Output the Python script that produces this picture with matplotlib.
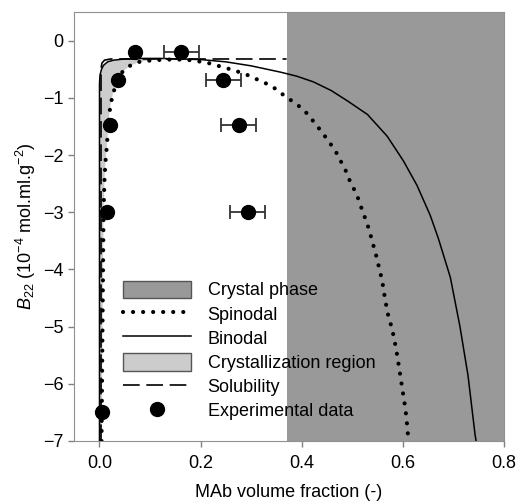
import matplotlib
matplotlib.use('Agg')
import matplotlib.pyplot as plt
from matplotlib.patches import Patch
from matplotlib.lines import Line2D
import numpy as np

plt.rcParams['font.family'] = ['Liberation Sans', 'DejaVu Sans']
plt.rcParams['mathtext.fontset'] = 'custom'
plt.rcParams['mathtext.rm'] = 'Liberation Sans'
plt.rcParams['mathtext.it'] = 'Liberation Sans:italic'

# experimental B22 points (volume fraction, B22 in 1e-4 mol.ml.g^-2)
exp_x = [0.004, 0.014, 0.020, 0.036, 0.071, 0.162, 0.245, 0.275, 0.293]
exp_y = [-6.5, -3.0, -1.47, -0.69, -0.2, -0.2, -0.69, -1.47, -3.0]
exp_xerr = [0, 0, 0, 0, 0, 0.035, 0.035, 0.035, 0.035]

# spinodal curve
sp_x = [0.004, 0.005, 0.006, 0.007, 0.008, 0.010, 0.012, 0.014, 0.016, 0.019,
        0.022, 0.026, 0.035, 0.045, 0.06, 0.079, 0.097, 0.13, 0.17, 0.211,
        0.231, 0.251, 0.27, 0.29, 0.31, 0.33, 0.35, 0.368, 0.389, 0.409, 0.425,
        0.44, 0.455, 0.468, 0.478, 0.488, 0.496, 0.506, 0.514, 0.52, 0.528,
        0.534, 0.547, 0.559, 0.565, 0.571, 0.579, 0.587, 0.593, 0.599, 0.605,
        0.609, 0.611]
sp_y = [-7.0, -6.0, -5.0, -4.0, -3.0, -2.4, -2.1, -1.9, -1.66, -1.3,
        -1.12, -0.95, -0.7, -0.55, -0.44, -0.37, -0.35, -0.33, -0.33, -0.38,
        -0.43, -0.48, -0.53, -0.59, -0.67, -0.75, -0.85, -0.98, -1.1, -1.26, -1.43,
        -1.6, -1.78, -1.95, -2.12, -2.29, -2.47, -2.64, -2.81, -2.98, -3.16,
        -3.33, -3.75, -4.19, -4.53, -4.8, -5.05, -5.4, -5.74, -6.09, -6.43,
        -6.76, -7.0]

# binodal curve
bn_x = [0.0, 0.0, 0.001, 0.004, 0.008, 0.016, 0.028, 0.05, 0.08, 0.12, 0.2,
        0.25, 0.3, 0.358, 0.39, 0.423, 0.458, 0.49, 0.53, 0.569, 0.601, 0.628,
        0.654, 0.67, 0.694, 0.713, 0.729, 0.743, 0.745]
bn_y = [-7.0, -0.75, -0.6, -0.5, -0.43, -0.37, -0.34, -0.32, -0.31, -0.31, -0.33,
        -0.37, -0.44, -0.55, -0.62, -0.72, -0.87, -1.05, -1.29, -1.67, -2.1, -2.53,
        -3.05, -3.45, -4.14, -5.0, -5.86, -6.9, -7.0]

# solubility line
sol_x = [0.003, 0.003, 0.005, 0.010, 0.022, 0.37]
sol_y = [-7.0, -0.48, -0.39, -0.34, -0.32, -0.32]

crystal_start = 0.37
crystal_end = 0.8

DARK = '#999999'
LIGHT = '#cccccc'

fig = plt.figure(figsize=(5.19, 5.04), dpi=100)
ax = fig.add_axes([0.143, 0.125, 0.828, 0.851])

# crystal phase band
ax.axvspan(crystal_start, crystal_end, color=DARK, lw=0, zorder=0)

# crystallization region: between left branches of binodal and spinodal
bi_top = 9
si_top = 16
reg_x = bn_x[:bi_top + 1] + sp_x[:si_top + 1][::-1]
reg_y = bn_y[:bi_top + 1] + sp_y[:si_top + 1][::-1]
ax.fill(reg_x, reg_y, color=LIGHT, lw=0, zorder=1)

ax.plot(sol_x, sol_y, color='black', lw=1.2, dashes=(10, 4), zorder=2)
ax.plot(bn_x, bn_y, color='black', lw=1.1, zorder=3)
ax.plot(sp_x, sp_y, color='black', lw=3.0, linestyle=(0, (0.01, 2.4)),
        dash_capstyle='round', zorder=3)

ax.errorbar(exp_x, exp_y, xerr=exp_xerr, fmt='o', color='black', ms=10,
            ecolor='#333333', elinewidth=1.3, capsize=5, capthick=1.3, zorder=4)

ax.set_xlim(-0.05, 0.8)
ax.set_ylim(-7, 0.5)
ax.set_xticks([0.0, 0.2, 0.4, 0.6, 0.8])
ax.set_xticklabels(['0.0', '0.2', '0.4', '0.6', '0.8'])
ax.set_yticks(range(-7, 1))
ax.tick_params(labelsize=13, color='#808080', length=4, width=1)
ax.tick_params(axis='x', pad=6)
for s in ax.spines.values():
    s.set_color('#909090')

ax.set_xlabel('MAb volume fraction (-)', fontsize=13, labelpad=9)
ax.set_ylabel(r'$B_{22}$ (10$^{-4}$ mol.ml.g$^{-2}$)', fontsize=13)

handles = [
    Patch(facecolor=DARK, edgecolor='#555555', lw=1),
    Line2D([], [], color='black', lw=3.0, linestyle=(0, (0.01, 2.4)), dash_capstyle='round'),
    Line2D([], [], color='black', lw=1.1),
    Patch(facecolor=LIGHT, edgecolor='#555555', lw=1),
    Line2D([], [], color='black', lw=1.2, dashes=(10, 4)),
    Line2D([], [], color='black', marker='o', ms=10, lw=0),
]
labels = ['Crystal phase', 'Spinodal', 'Binodal', 'Crystallization region',
          'Solubility', 'Experimental data']
ax.legend(handles, labels, loc='lower left', bbox_to_anchor=(0.075, 0.01),
          frameon=False, fontsize=13, handlelength=3.8, handleheight=1.1,
          labelspacing=0.3, handletextpad=0.9)

fig.savefig('out.png', dpi=100)
